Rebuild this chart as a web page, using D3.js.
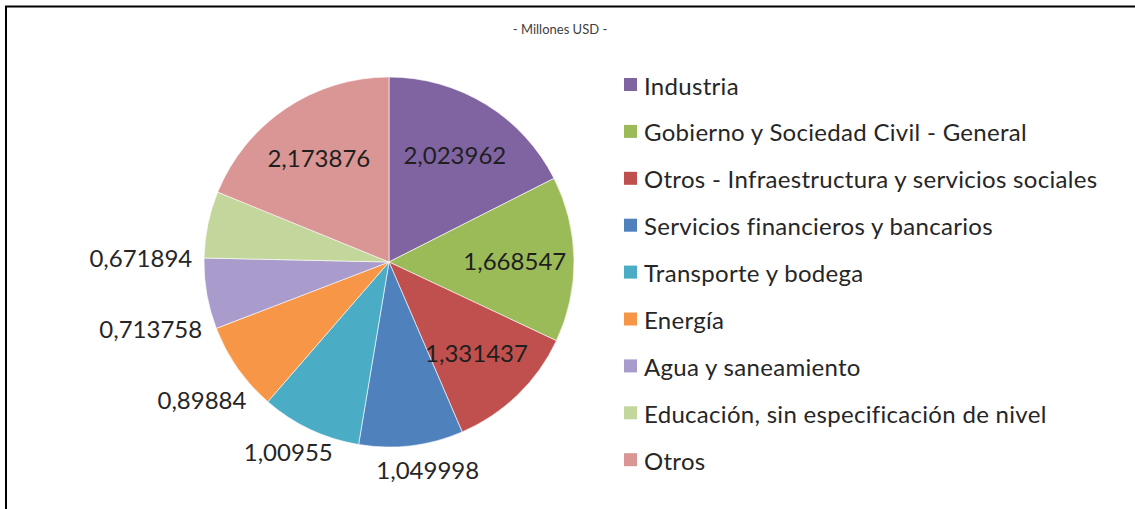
<!DOCTYPE html>
<html>
<head>
<meta charset="utf-8">
<script src="https://cdn.jsdelivr.net/npm/d3@7"></script>
<style>
  html, body { margin: 0; padding: 0; background: #ffffff; }
  svg { display: block; }
  text { font-family: Lato, "Open Sans", sans-serif; }
</style>
</head>
<body>
<svg id="chart" width="1135" height="509"></svg>
<script>
// ---- Data ----
const categories = [
  "Industria",
  "Gobierno y Sociedad Civil - General",
  "Otros - Infraestructura y servicios sociales",
  "Servicios financieros y bancarios",
  "Transporte y bodega",
  "Energía",
  "Agua y saneamiento",
  "Educación, sin especificación de nivel",
  "Otros"
];
const values = [2.023962, 1.668547, 1.331437, 1.049998, 1.00955, 0.89884, 0.713758, 0.671894, 2.173876];
const valueLabels = ["2,023962", "1,668547", "1,331437", "1,049998", "1,00955", "0,89884", "0,713758", "0,671894", "2,173876"];
const colors = ["#8064A2", "#9BBB59", "#C0504D", "#4F81BD", "#4BACC6", "#F79646", "#A99BCB", "#C3D69B", "#D99694"];
const subtitle = "- Millones USD -";

// ---- Layout ----
const W = 1135, H = 509;
const cx = 389, cy = 262, r = 185;
const svg = d3.select("#chart");

// frame (left & top visible)
svg.append("line").attr("x1", 6).attr("y1", 6).attr("x2", 6).attr("y2", H).attr("stroke", "#000").attr("stroke-width", 2);
svg.append("line").attr("x1", 5).attr("y1", 6.5).attr("x2", W).attr("y2", 6.5).attr("stroke", "#000").attr("stroke-width", 2);

svg.append("text").attr("x", 560).attr("y", 34).attr("text-anchor", "middle")
  .attr("font-size", 13).attr("fill", "#404040").text(subtitle);

const data = categories.map((c, i) => ({ cat: c, value: values[i], label: valueLabels[i], color: colors[i] }));
const pie = d3.pie().sort(null).value(d => d.value);
const arcs = pie(data);
const arc = d3.arc().innerRadius(0).outerRadius(r);

const g = svg.append("g").attr("transform", `translate(${cx},${cy})`);
g.selectAll("path").data(arcs).enter().append("path")
  .attr("d", arc)
  .attr("fill", d => d.data.color)
  .attr("stroke", "#ffffff").attr("stroke-width", 0.6);

const total = d3.sum(values);
arcs.forEach(a => {
  const share = a.data.value / total;
  const mid = (a.startAngle + a.endAngle) / 2;
  if (share > 0.1) {
    const rr = r * 0.68;
    g.append("text")
      .attr("x", rr * Math.sin(mid))
      .attr("y", -rr * Math.cos(mid))
      .attr("text-anchor", "middle")
      .attr("dominant-baseline", "central")
      .attr("font-size", 24).attr("fill", "#1f1f1f")
      .text(a.data.label);
  } else {
    const ang = mid - 0.15;
    const R = r + 12;
    const x = R * Math.sin(ang), y = -R * Math.cos(ang);
    const s = Math.sin(ang);
    const t = g.append("text").attr("font-size", 24).attr("fill", "#262626").text(a.data.label);
    if (s < -0.2) {
      t.attr("x", x).attr("y", y + 6 * (1 + Math.cos(ang))).attr("text-anchor", "end").attr("dominant-baseline", "central");
    } else {
      t.attr("x", x - 14).attr("y", y + 18).attr("text-anchor", "middle").attr("dominant-baseline", "central");
    }
  }
});

// legend
const legend = svg.append("g").attr("transform", "translate(624,78)");
const rowH = 46.9;
const lg = legend.selectAll("g").data(data).enter().append("g")
  .attr("transform", (d, i) => `translate(0,${i * rowH})`);
lg.append("rect").attr("x", 0).attr("y", 0).attr("width", 13).attr("height", 13).attr("fill", d => d.color);
lg.append("text").attr("x", 20).attr("y", 7).attr("dominant-baseline", "central")
  .attr("font-size", 24).attr("letter-spacing", 0.3).attr("fill", "#262626").text(d => d.cat);
</script>
</body>
</html>
